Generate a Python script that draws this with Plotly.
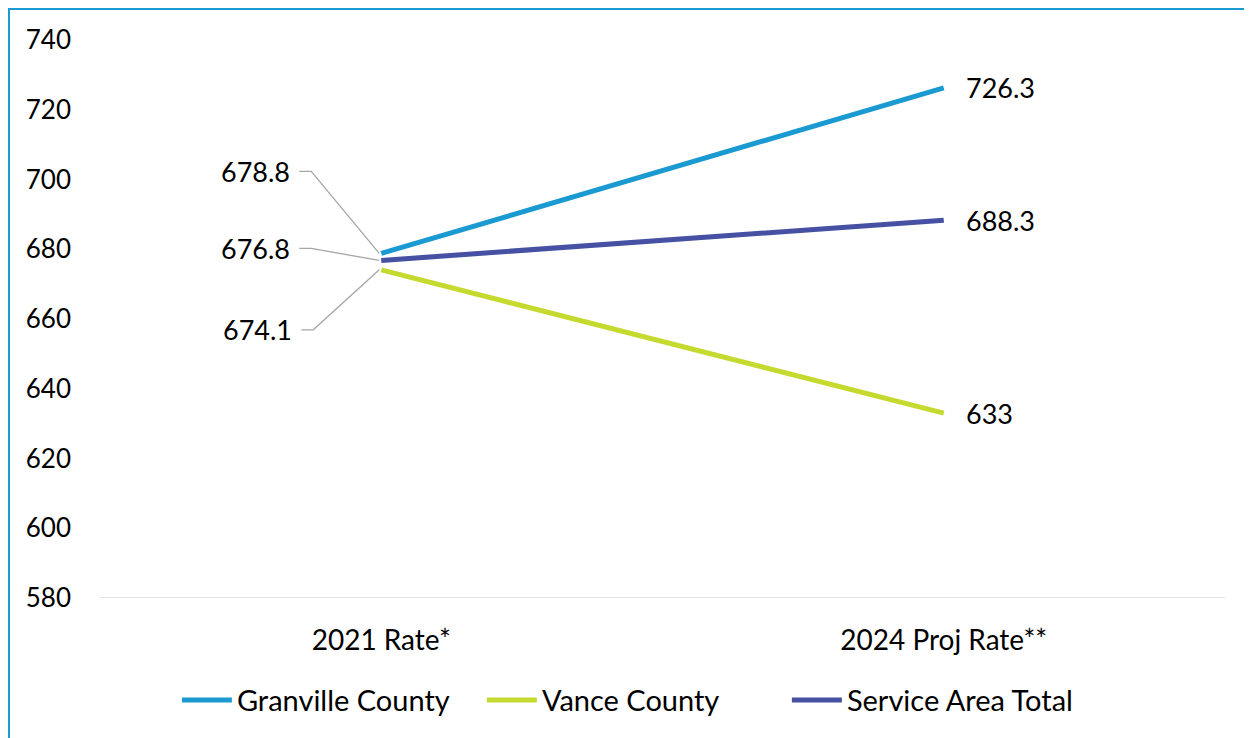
import plotly.graph_objects as go

categories = ["2021 Rate*", "2024 Proj Rate**"]
granville = [678.8, 726.3]
vance = [674.1, 633.0]
service = [676.8, 688.3]
series_names = ["Granville County", "Vance County", "Service Area Total"]
series_colors = ["#1a9ad0", "#c5d92f", "#4651a3"]
y_ticks = [580, 600, 620, 640, 660, 680, 700, 720, 740]

FONT = "Lato, 'Open Sans', sans-serif"
fig = go.Figure()
for name, vals, col in zip(series_names, [granville, vance, service], series_colors):
    fig.add_trace(go.Scatter(x=categories, y=vals, name=name, mode="lines",
                             line=dict(color=col, width=5)))

# right-side labels
for vals in [granville, vance, service]:
    fig.add_annotation(x=categories[1], y=vals[1], text=f"{vals[1]:g}", showarrow=False,
                       xanchor="left", xshift=20, font=dict(size=27, color="#000", family=FONT))

# left-side labels with leader lines (pixel offsets)
left_specs = [(granville[0], -82, -82), (service[0], -82, -12), (vance[0], -80, 60)]
for val, dx, dy in left_specs:
    fig.add_annotation(x=categories[0], y=val, text=f"{val:g}", showarrow=False,
                       xanchor="right", xshift=dx - 7, yshift=-dy, font=dict(size=27, color="#000", family=FONT))
    fig.add_shape(type="path", xref="x", yref="y", xsizemode="pixel", ysizemode="pixel",
                  xanchor=0, yanchor=val,
                  path=f"M {dx},{-dy} L {dx+12},{-dy} L -2,0",
                  line=dict(color="#a6a6a6", width=1.3))

# outer chart border
fig.add_shape(type="path", xref="paper", yref="paper",
              path="M 1.2,1.0556 L -0.0809,1.0556 L -0.0809,-0.5",
              line=dict(color="#1a9ad0", width=2))

fig.update_layout(
    width=1252, height=738,
    margin=dict(l=92, r=35, t=32, b=148),
    plot_bgcolor="white", paper_bgcolor="white",
    font=dict(family=FONT, size=26, color="#000"),
    showlegend=True,
    legend=dict(orientation="h", x=0.475, xanchor="center", y=-0.183, yanchor="middle",
                font=dict(size=29, family=FONT), tracegroupgap=0, itemwidth=50,
                entrywidth=240, entrywidthmode="pixels"),
    xaxis=dict(type="category", range=[-0.5, 1.5], showgrid=False, zeroline=False,
               showline=False, ticks="", tickfont=dict(size=28), ticklabelstandoff=23,
               automargin=False),
    yaxis=dict(range=[580, 740], tickvals=y_ticks, showgrid=False, zeroline=False,
               showline=False, ticks="", tickfont=dict(size=26), ticklabelstandoff=28,
               automargin=False),
)
fig.add_shape(type="line", xref="paper", yref="y", x0=0, x1=1, y0=580, y1=580,
              line=dict(color="#d9d9d9", width=1.5), layer="below")
fig.write_html("out.html")
